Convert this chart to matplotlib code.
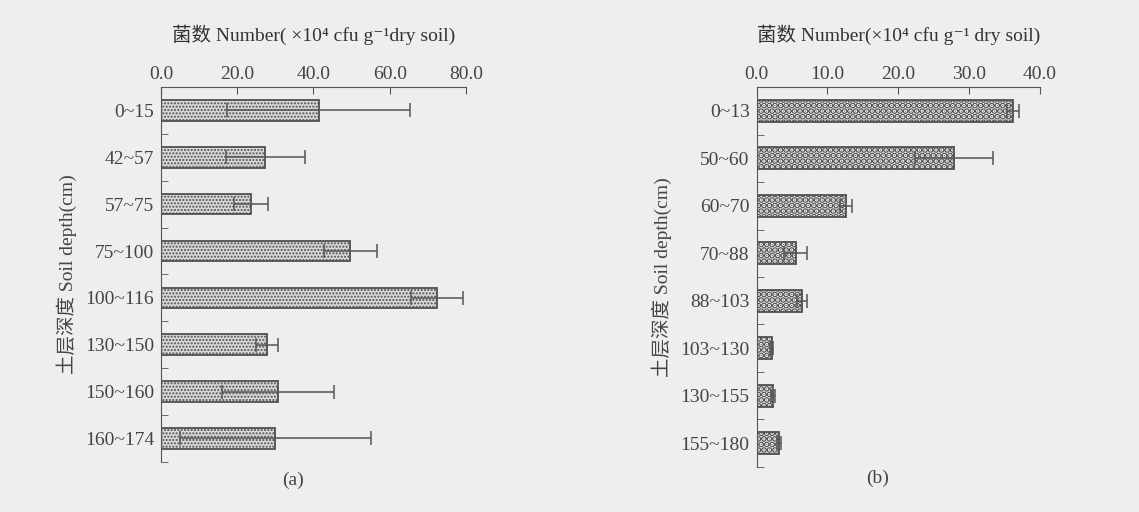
import numpy as np
import matplotlib
matplotlib.use("Agg")
import matplotlib.pyplot as plt

plt.rcParams['font.family'] = ['Liberation Serif', 'Noto Sans CJK SC', 'DejaVu Serif']

# panel (a)
depth_a = ["0~15", "42~57", "57~75", "75~100", "100~116", "130~150", "150~160", "160~174"]
count_a = [41.4, 27.4, 23.6, 49.7, 72.5, 27.8, 30.7, 30.0]
err_a = [24.0, 10.3, 4.5, 7.0, 6.8, 3.0, 14.7, 25.0]
ticks_a = [0, 20, 40, 60, 80]

# panel (b)
depth_b = ["0~13", "50~60", "60~70", "70~88", "88~103", "103~130", "130~155", "155~180"]
count_b = [36.2, 27.9, 12.6, 5.5, 6.4, 2.1, 2.3, 3.2]
err_b = [0.9, 5.5, 0.8, 1.6, 0.7, 0.2, 0.3, 0.3]
ticks_b = [0, 10, 20, 30, 40]

bg = '#eeeeee'
fig = plt.figure(figsize=(11.39, 5.12), dpi=100, facecolor=bg)

xlabel_a = '菌数 Number( ×10⁴ cfu g⁻¹dry soil)'
xlabel_b = '菌数 Number(×10⁴ cfu g⁻¹ dry soil)'
ylabel = '土层深度 Soil depth(cm)'


def panel(rect, cats, vals, errs, ticks, hatch, fill, hcol, hlw, height, lab):
    ax = fig.add_axes(rect, facecolor=bg)
    y = np.arange(len(cats))
    with plt.rc_context({'hatch.color': hcol, 'hatch.linewidth': hlw}):
        ax.barh(y, vals, height=height, color=fill, edgecolor='#505050',
                linewidth=1.3, hatch=hatch)
    ax.errorbar(vals, y, xerr=errs, fmt='none', ecolor='#555555',
                elinewidth=1.1, capsize=5, capthick=1.1)
    ax.set_ylim(len(cats) - 0.5, -0.5)
    ax.set_xlim(ticks[0], ticks[-1])
    ax.set_xticks(ticks)
    ax.set_xticklabels(['%.1f' % t for t in ticks])
    ax.set_yticks(y)
    ax.set_yticklabels(cats)
    ax.set_yticks(np.arange(len(cats) + 1) - 0.5, minor=True)
    ax.xaxis.tick_top()
    ax.xaxis.set_label_position('top')
    for s in ['right', 'bottom']:
        ax.spines[s].set_visible(False)
    for s in ['top', 'left']:
        ax.spines[s].set_color('#555555')
    ax.tick_params(axis='x', direction='in', length=5, colors='#555555',
                   labelcolor='#444444', labelsize=14, pad=3)
    ax.tick_params(axis='y', which='major', length=0, labelcolor='#444444',
                   labelsize=14, pad=5)
    ax.tick_params(axis='y', which='minor', direction='in', length=5,
                   color='#555555')
    ax.set_xlabel(lab, fontsize=14, color='#333333', labelpad=18)
    ax.set_ylabel(ylabel, fontsize=14, color='#444444', labelpad=6)
    return ax


panel([0.1414, 0.098, 0.2676, 0.732], depth_a, count_a, err_a, ticks_a,
      '.....', '#d8d8d8', '#6a6a6a', 1.0, 0.44, xlabel_a)
panel([0.6643, 0.088, 0.2487, 0.742], depth_b, count_b, err_b, ticks_b,
      '...', '#f0f0f0', '#484848', 3.2, 0.47, xlabel_b)

fig.text(293 / 1139, 1 - 480 / 512, '(a)', ha='center', va='center',
         fontsize=14, color='#444444')
fig.text(878 / 1139, 1 - 478 / 512, '(b)', ha='center', va='center',
         fontsize=14, color='#444444')

fig.savefig('out.png', dpi=100, facecolor=bg)
